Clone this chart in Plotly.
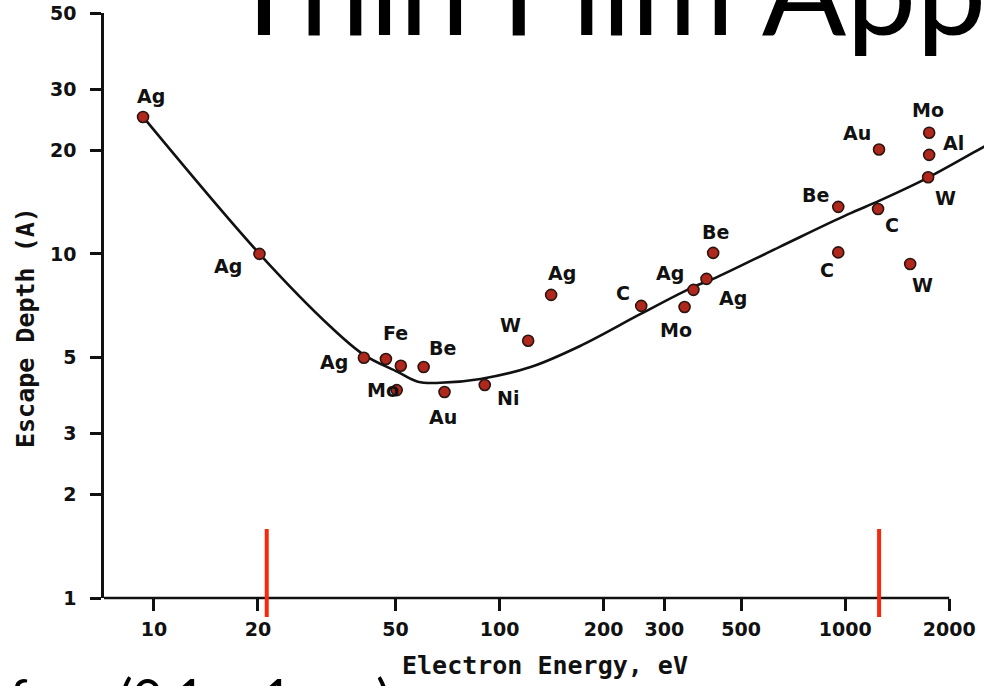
import math
import plotly.graph_objects as go

# ---------------- data ----------------
ELEMENTS = ['Ag', 'Ag', 'Ag', 'Fe', '', 'Mo', 'Be', 'Au', 'Ni', 'W', 'Ag', 'C',
            'Mo', 'Ag', 'Ag', 'Be', 'Be', 'C', 'C', 'Au', 'W', 'Mo', 'Al', 'W']
ENERGY_EV = [9.3, 20.2, 40.5, 46.9, 51.8, 50.4, 60.3, 69.3, 90.6, 121, 141, 257,
             343, 364, 397, 415, 955, 955, 1245, 1253, 1542, 1750, 1750, 1738]
DEPTH_A = [25.0, 10.0, 4.99, 4.95, 4.73, 4.02, 4.69, 3.97, 4.16, 5.59, 7.60, 7.06,
           7.01, 7.86, 8.46, 10.07, 13.7, 10.1, 13.5, 20.1, 9.35, 22.5, 19.4, 16.7]

CURVE_EV = [9.3, 20.2, 32.5, 40.5, 50.7, 58.0, 67.4, 88.1, 123, 171, 256, 364,
            415, 649, 1014, 1262, 1726, 2523, 2700]
CURVE_A = [25.0, 10.0, 6.13, 5.09, 4.54, 4.25, 4.22, 4.33, 4.69, 5.40, 6.69, 8.02,
           8.46, 10.5, 13.0, 14.3, 16.6, 20.5, 21.3]

SOURCE_LINES_EV = [21.2, 1253.6]   # He I and Mg K-alpha

X_TICKS = [10, 20, 50, 100, 200, 300, 500, 1000, 2000]
X_TICK_TEXT = ['10', '20', '50', '100', '200', '300', '500', '1000', '2000']
Y_TICKS = [1, 2, 3, 5, 10, 20, 30, 50]
Y_TICK_TEXT = ['1', '2', '3', '5', '10', '20', '30', '50']

# label offsets (pixels) relative to each point
LABEL_SHIFT = [(8, 21), (-31, -12), (-30, -4), (10, 26), (0, 0), (-14, 0), (19, 19),
               (-2, -25), (23, -13), (-18, 16), (11, 22), (-18, 13), (-9, -23),
               (-23, 17), (26, -19), (2, 21), (-23, 12), (-11, -18), (14, -16),
               (-22, 17), (12, -21), (-1, 23), (24, 12), (17, -21)]

# ---------------- layout geometry ----------------
W, H = 984, 686
ML, MR, MT, MB = 104, 0, 13, 88
XRANGE = [0.8555, 3.4017]
YRANGE = [0.0, 1.70]
PW, PH = W - ML - MR, H - MT - MB


def px(xp):
    return (xp - ML) / PW


def py(yp):
    return (H - MB - yp) / PH


TICK_FONT = dict(family='DejaVu Sans', size=19, color='#111111', weight='bold')
LABEL_FONT = dict(family='DejaVu Sans', size=19, color='#111111', weight='bold')
TITLE_FONT = dict(family='DejaVu Sans Mono', size=25, color='#111111', weight='bold')

fig = go.Figure()

fig.add_trace(go.Scatter(
    x=CURVE_EV, y=CURVE_A, mode='lines',
    line=dict(color='#111111', width=2.6, shape='spline', smoothing=1.0),
    hoverinfo='skip', showlegend=False))

fig.add_trace(go.Scatter(
    x=ENERGY_EV, y=DEPTH_A, mode='markers',
    marker=dict(size=11, color='#b0281c', line=dict(color='#2a1510', width=1.6)),
    text=ELEMENTS, showlegend=False))

annotations = []
for el, e, d, (dx, dy) in zip(ELEMENTS, ENERGY_EV, DEPTH_A, LABEL_SHIFT):
    if not el:
        continue
    annotations.append(dict(x=math.log10(e), y=math.log10(d), xref='x', yref='y',
                            text=el, showarrow=False, xshift=dx, yshift=dy,
                            font=LABEL_FONT))

# axis titles
annotations.append(dict(xref='paper', yref='paper', x=px(545), y=py(665),
                        text='Electron Energy, eV', showarrow=False,
                        xanchor='center', yanchor='middle', font=TITLE_FONT))
annotations.append(dict(xref='paper', yref='paper', x=px(25), y=py(328),
                        text='Escape Depth (A)', showarrow=False, textangle=-90,
                        xanchor='center', yanchor='middle', font=TITLE_FONT))

# slide overlay texts
annotations.append(dict(xref='paper', yref='paper', x=px(225), y=py(64),
                        text='Thin Film Applications', showarrow=False,
                        xanchor='left', yanchor='bottom',
                        font=dict(family='Lato', size=125, color='#000000')))
annotations.append(dict(xref='paper', yref='paper', x=px(392), y=py(664),
                        text='Surface (0.1 \u2013 1 nm)', showarrow=False,
                        xanchor='right', yanchor='top',
                        font=dict(family='Lato', size=52, color='#000000')))

shapes = [
    # x axis line, ending at the 2000 tick
    dict(type='line', xref='x', yref='paper', x0=10 ** XRANGE[0], x1=2000,
         y0=0, y1=0, line=dict(color='#111111', width=2.5), layer='above'),
]
for ev in SOURCE_LINES_EV:
    shapes.append(dict(type='line', xref='x', yref='paper', x0=ev, x1=ev,
                       y0=py(529), y1=py(617),
                       line=dict(color='#f52a0c', width=4), layer='above'))

fig.update_layout(
    width=W, height=H,
    margin=dict(l=ML, r=MR, t=MT, b=MB),
    paper_bgcolor='white', plot_bgcolor='white',
    annotations=annotations, shapes=shapes,
    xaxis=dict(type='log', range=XRANGE, tickvals=X_TICKS, ticktext=X_TICK_TEXT,
               ticks='outside', ticklen=12, tickwidth=2.5, tickcolor='#111111',
               showline=False, showgrid=False, zeroline=False,
               tickfont=TICK_FONT, ticklabelstandoff=2),
    yaxis=dict(type='log', range=YRANGE, tickvals=Y_TICKS, ticktext=Y_TICK_TEXT,
               ticks='outside', ticklen=11, tickwidth=2.5, tickcolor='#111111',
               showline=True, linecolor='#111111', linewidth=2.5,
               showgrid=False, zeroline=False,
               tickfont=TICK_FONT, ticklabelstandoff=10),
)

fig.write_html('out.html')
